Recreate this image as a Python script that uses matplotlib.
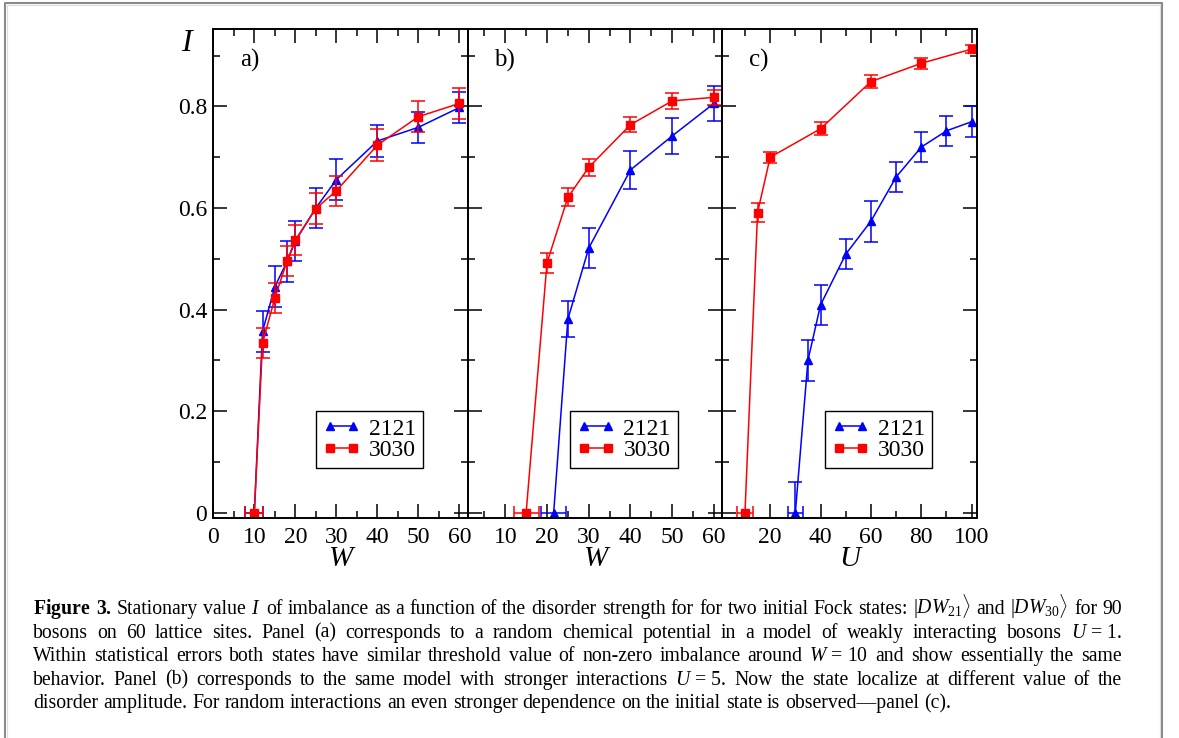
import matplotlib
matplotlib.use('Agg')
import matplotlib.pyplot as plt
from matplotlib.lines import Line2D
import numpy as np

plt.rcParams['font.family'] = 'Liberation Serif'
plt.rcParams['mathtext.fontset'] = 'custom'
plt.rcParams['mathtext.rm'] = 'Liberation Serif'
plt.rcParams['mathtext.it'] = 'Liberation Serif:italic'
plt.rcParams['mathtext.bf'] = 'Liberation Serif:bold'

# panel a) weak interactions U = 1, disorder W
w_a = [10, 12, 15, 18, 20, 25, 30, 40, 50, 60]
a_2121 = [0, 0.357, 0.445, 0.495, 0.535, 0.600, 0.656, 0.732, 0.759, 0.798]
a_2121_err = [0, 0.040, 0.040, 0.040, 0.040, 0.040, 0.040, 0.032, 0.030, 0.030]
a_2121_xerr = [2.2, 0, 0, 0, 0, 0, 0, 0, 0, 0]
a_3030 = [0, 0.334, 0.423, 0.496, 0.537, 0.599, 0.634, 0.724, 0.780, 0.806]
a_3030_err = [0, 0.030, 0.029, 0.030, 0.030, 0.030, 0.030, 0.031, 0.030, 0.030]
a_3030_xerr = [2.2, 0, 0, 0, 0, 0, 0, 0, 0, 0]

# panel b) stronger interactions U = 5, disorder W
w_b_2121 = [21.6, 25, 30, 40, 50, 60]
b_2121 = [0, 0.381, 0.521, 0.675, 0.742, 0.806]
b_2121_err = [0, 0.036, 0.039, 0.038, 0.036, 0.035]
b_2121_xerr = [3.0, 0, 0, 0, 0, 0]
w_b_3030 = [15, 20, 25, 30, 40, 50, 60]
b_3030 = [0, 0.492, 0.621, 0.680, 0.764, 0.811, 0.818]
b_3030_err = [0, 0.020, 0.018, 0.017, 0.015, 0.016, 0.015]
b_3030_xerr = [3.0, 0, 0, 0, 0, 0, 0]

# panel c) random interactions U
u_c_2121 = [30, 35, 40, 50, 60, 70, 80, 90, 100]
c_2121 = [0, 0.300, 0.409, 0.509, 0.574, 0.661, 0.720, 0.752, 0.770]
c_2121_err = [0.060, 0.040, 0.040, 0.030, 0.040, 0.030, 0.030, 0.030, 0.030]
c_2121_xerr = [3.0, 0, 0, 0, 0, 0, 0, 0, 0]
u_c_3030 = [10, 15, 20, 40, 60, 80, 100]
c_3030 = [0, 0.591, 0.700, 0.756, 0.849, 0.885, 0.913]
c_3030_err = [0, 0.018, 0.011, 0.013, 0.013, 0.011, 0.008]
c_3030_xerr = [3.1, 0, 0, 0, 0, 0, 0]

y_ticks = [0, 0.2, 0.4, 0.6, 0.8]
y_tick_labels = ['0', '0.2', '0.4', '0.6', '0.8']
x_ticks_a = [0, 10, 20, 30, 40, 50, 60]
x_ticks_b = [10, 20, 30, 40, 50, 60]
x_ticks_c = [20, 40, 60, 80, 100]

caption_lines = [
    r'$\mathbf{Figure}$ $\mathbf{3.}$ Stationary value $I$ of imbalance as a function of the disorder strength for for two initial Fock states: $|DW_{21}\rangle$ and $|DW_{30}\rangle$ for 90',
    r'bosons on 60 lattice sites. Panel (a) corresponds to a random chemical potential in a model of weakly interacting bosons $U\,=\,1$.',
    r'Within statistical errors both states have similar threshold value of non-zero imbalance around $W\,=\,10$ and show essentially the same',
    r'behavior. Panel (b) corresponds to the same model with stronger interactions $U\,=\,5$. Now the state localize at different value of the',
    r'disorder amplitude. For random interactions an even stronger dependence on the initial state is observed—panel (c).',
]

W, H = 1179, 738
fig = plt.figure(figsize=(W / 100, H / 100), dpi=100)


def px_axes(x0, x1, y0, y1):
    return fig.add_axes([x0 / W, 1 - y1 / H, (x1 - x0) / W, (y1 - y0) / H])


def draw_series(ax, x, y, yerr, xerr, color, marker, label):
    x = np.asarray(x, float)
    y = np.asarray(y, float)
    yerr = np.asarray(yerr, float)
    xerr = np.asarray(xerr, float)
    ax.plot(x, y, color=color, marker=marker, ms=6, lw=1.1, label=label)
    m = yerr > 0
    ax.errorbar(x[m], y[m], yerr=yerr[m], fmt='none', ecolor=color,
                elinewidth=1.1, capsize=5, capthick=1.1)
    m = xerr > 0
    ax.errorbar(x[m], y[m], xerr=xerr[m], fmt='none', ecolor=color,
                elinewidth=1.1, capsize=5, capthick=1.1)


def style_axes(ax, xlim, xticks, xminor, panel, xlabel, ylabels):
    ax.set_xlim(*xlim)
    ax.set_ylim(-0.01, 0.952)
    ax.set_xticks(xticks)
    ax.set_xticklabels([str(t) for t in xticks])
    ax.set_xticks(xminor, minor=True)
    ax.set_yticks(y_ticks)
    ax.set_yticks([0.1, 0.3, 0.5, 0.7, 0.9], minor=True)
    if ylabels:
        ax.set_yticklabels(y_tick_labels)
    else:
        ax.set_yticklabels([])
    ax.tick_params(which='both', direction='in', top=True, right=True,
                   width=1.1, labelsize=17)
    ax.tick_params(which='major', length=10)
    ax.tick_params(which='minor', length=5)
    ax.tick_params(axis='x', pad=6.5)
    ax.tick_params(axis='y', pad=4.5)
    for s in ax.spines.values():
        s.set_linewidth(1.4)
    ax.text(0.105, 0.923, panel, transform=ax.transAxes, fontsize=18,
            va='baseline', ha='left')
    ax.text(0.5, -0.099, xlabel, transform=ax.transAxes, fontsize=21,
            fontstyle='italic', va='baseline', ha='center')
    leg = ax.legend(loc='lower right', bbox_to_anchor=(0.825, 0.101),
                    numpoints=2, fontsize=17, fancybox=False, framealpha=1,
                    edgecolor='black', handlelength=1.6, handletextpad=0.35,
                    borderpad=0.3, labelspacing=0.0, borderaxespad=0)
    leg.get_frame().set_linewidth(1.0)


ax_a = px_axes(213.3, 467.7, 29.3, 517.7)
ax_b = px_axes(467.7, 722.3, 29.3, 517.7)
ax_c = px_axes(722.3, 976.7, 29.3, 517.7)

draw_series(ax_a, w_a, a_2121, a_2121_err, a_2121_xerr, 'blue', '^', '2121')
draw_series(ax_a, w_a, a_3030, a_3030_err, a_3030_xerr, 'red', 's', '3030')
style_axes(ax_a, (0, 62), x_ticks_a, [5, 15, 25, 35, 45, 55], 'a)', 'W', True)

draw_series(ax_b, w_b_2121, b_2121, b_2121_err, b_2121_xerr, 'blue', '^', '2121')
draw_series(ax_b, w_b_3030, b_3030, b_3030_err, b_3030_xerr, 'red', 's', '3030')
style_axes(ax_b, (1, 62), x_ticks_b, [5, 15, 25, 35, 45, 55], 'b)', 'W', False)

draw_series(ax_c, u_c_2121, c_2121, c_2121_err, c_2121_xerr, 'blue', '^', '2121')
draw_series(ax_c, u_c_3030, c_3030, c_3030_err, c_3030_xerr, 'red', 's', '3030')
style_axes(ax_c, (1, 102), x_ticks_c, [10, 30, 50, 70, 90], 'c)', 'U', False)

ax_a.text(-0.105, 0.97, 'I', transform=ax_a.transAxes, fontsize=23,
          fontstyle='italic', ha='center', va='center')

# gray page frame, open at the bottom
fx = [5 / W, 5 / W, 1162 / W, 1162 / W]
fy = [-0.05, 1 - 3 / H, 1 - 3 / H, -0.05]
fig.add_artist(Line2D(fx, fy, transform=fig.transFigure, color='#8a8a8a', lw=1.5))
fx2 = [7 / W, 7 / W, 1160 / W, 1160 / W]
fy2 = [-0.05, 1 - 5 / H, 1 - 5 / H, -0.05]
fig.add_artist(Line2D(fx2, fy2, transform=fig.transFigure, color='#dddddd', lw=0.8))

# caption, justified word by word like the journal typesetting
cap_fs = 14.2
left_px, right_px = 33, 1122
renderer = fig.canvas.get_renderer()
for i, line in enumerate(caption_lines):
    words = line.split(' ')
    y = 1 - (614 + i * 23.6) / H
    texts = [fig.text(0, y, w, fontsize=cap_fs, ha='left', va='baseline') for w in words]
    widths = [t.get_window_extent(renderer).width for t in texts]
    if i < len(caption_lines) - 1:
        gap = (right_px - left_px - sum(widths)) / (len(words) - 1)
    else:
        gap = cap_fs * 100 / 72 * 0.25
    x = left_px
    for t, w in zip(texts, widths):
        t.set_x(x / W)
        x += w + gap

fig.savefig('out.png', dpi=100)
